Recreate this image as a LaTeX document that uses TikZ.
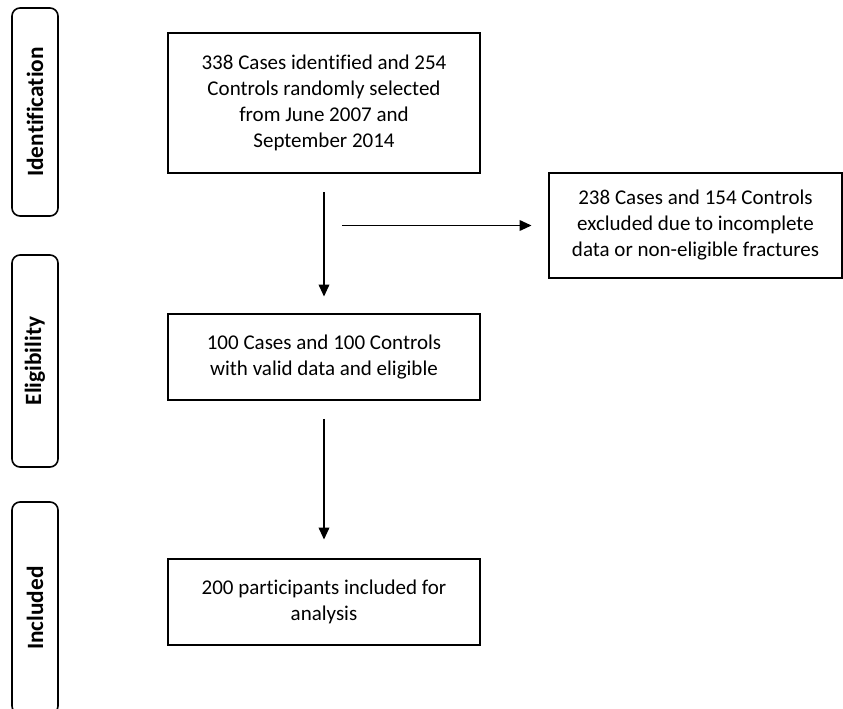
\documentclass[tikz,border=0pt]{standalone}
\usepackage{fontspec}
\setmainfont{Carlito}[Ligatures=NoCommon]
\usetikzlibrary{arrows.meta}
\tikzset{
    box/.style={
        draw,
        rectangle,
        line width=1.2pt,
        align=center,
        inner sep=0pt,
        font=\fontsize{15.75}{19.5}\selectfont
    },
    phase/.style={
        draw,
        rectangle,
        rounded corners=6pt,
        line width=1.2pt,
        rotate=90,
        inner sep=0pt,
        minimum height=34.5pt,
        font=\bfseries\fontsize{17.5}{20}\selectfont
    },
    flow/.style={
        -{Triangle[length=9pt, width=8pt]},
        line width=1.2pt
    }
}

\begin{document}
\begin{tikzpicture}[x=0.75pt, y=-0.75pt]
  \clip (0,0) rectangle (843,708);

  % Phase tabs on the left
  \node[phase, minimum width=156pt] (ident) at (35,112) {Identification};
  \node[phase, minimum width=159pt] (elig) at (35,361) {Eligibility};
  \node[phase, minimum width=159pt] (incl) at (35,608) {Included};

  % Flow boxes
  \node[box, minimum width=234pt, minimum height=105pt] (found) at (324,103)
    {338 Cases identified and 254\\Controls randomly selected\\from June 2007 and\\September 2014};
  \node[box, minimum width=219.75pt, minimum height=78.75pt] (excl) at (695.5,225.5)
    {238 Cases and 154 Controls\\excluded due to incomplete\\data or non-eligible fractures};
  \node[box, minimum width=234pt, minimum height=64.5pt] (valid) at (324,357)
    {100 Cases and 100 Controls\\with valid data and eligible};
  \node[box, minimum width=234pt, minimum height=64.5pt] (final) at (324,602)
    {200 participants included for\\analysis};

  % Arrows
  \coordinate (split) at (324,225.5);
  \draw[flow, shorten <=14pt, shorten >=12.5pt] (found) -- (valid);
  \draw[flow, shorten <=13.5pt, shorten >=12.5pt] (split) -- (excl);
  \draw[flow, shorten <=13.5pt, shorten >=14pt] (valid) -- (final);
\end{tikzpicture}
\end{document}
